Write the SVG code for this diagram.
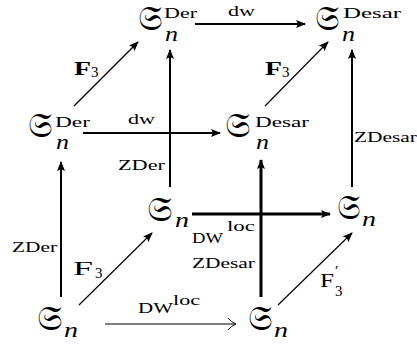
<svg xmlns="http://www.w3.org/2000/svg" width="417" height="345" viewBox="0 0 417 345">
<defs>
<style>
.fr{font-family:"DejaVu Serif","DejaVu Sans","Noto Sans",serif;font-size:35px;fill:#000}
.sup{font-family:"Liberation Serif","DejaVu Serif",serif;font-size:14px;fill:#000}
.it{font-family:"Liberation Serif","DejaVu Serif",serif;font-style:italic;font-size:22px;fill:#000}
.lb{font-family:"Liberation Serif","DejaVu Serif",serif;font-size:14px;fill:#000}
.bf{font-family:"Liberation Serif","DejaVu Serif",serif;font-weight:bold;font-size:18px;fill:#000}
.rm{font-family:"Liberation Serif","DejaVu Serif",serif;font-size:19px;fill:#000}
.sub{font-family:"Liberation Serif","DejaVu Serif",serif;font-size:15px;fill:#000}
.e{stroke:#000;fill:none}
</style>
<marker id="ah" viewBox="0 0 10 8" refX="9" refY="4" markerWidth="10" markerHeight="8" markerUnits="userSpaceOnUse" orient="auto">
<path d="M0,0 L10,4 L0,8 L2,4 z" fill="#000"/>
</marker>
</defs>
<g id="edges">
<line class="e" x1="195" y1="24" x2="305" y2="24" stroke-width="1.8" marker-end="url(#ah)"/>
<text class="lb" x="228" y="16" textLength="27" lengthAdjust="spacingAndGlyphs">dw</text>
<line class="e" x1="74" y1="106" x2="138" y2="42" stroke-width="1.2" marker-end="url(#ah)"/>
<text class="bf" x="74" y="75" textLength="17" lengthAdjust="spacingAndGlyphs">F</text><text class="sub" x="91" y="77">3</text>
<line class="e" x1="265" y1="106" x2="328" y2="42" stroke-width="1.2" marker-end="url(#ah)"/>
<text class="bf" x="265" y="75" textLength="17" lengthAdjust="spacingAndGlyphs">F</text><text class="sub" x="282" y="77">3</text>
<line class="e" x1="83" y1="133" x2="220" y2="133" stroke-width="1.8" marker-end="url(#ah)"/>
<text class="lb" x="128" y="124" textLength="27" lengthAdjust="spacingAndGlyphs">dw</text>
<line class="e" x1="170" y1="187" x2="170" y2="50" stroke-width="2" marker-end="url(#ah)"/>
<text class="lb" x="118" y="170" textLength="47" lengthAdjust="spacingAndGlyphs">ZDer</text>
<line class="e" x1="352" y1="187" x2="352" y2="50" stroke-width="2" marker-end="url(#ah)"/>
<text class="lb" x="354" y="142" textLength="63" lengthAdjust="spacingAndGlyphs">ZDesar</text>
<line class="e" x1="61" y1="297" x2="61" y2="162" stroke-width="2" marker-end="url(#ah)"/>
<text class="lb" x="12" y="252" textLength="45" lengthAdjust="spacingAndGlyphs">ZDer</text>
<line class="e" x1="261" y1="297" x2="261" y2="160" stroke-width="3" marker-end="url(#ah)"/>
<text class="lb" x="192" y="268" textLength="63" lengthAdjust="spacingAndGlyphs">ZDesar</text>
<line class="e" x1="192" y1="214" x2="330" y2="214" stroke-width="3" marker-end="url(#ah)"/>
<text class="lb" x="192" y="243" textLength="31" lengthAdjust="spacingAndGlyphs">DW</text>
<text class="lb" x="227" y="231" textLength="28" lengthAdjust="spacingAndGlyphs">loc</text>
<line class="e" x1="79" y1="305" x2="152" y2="233" stroke-width="1.2" marker-end="url(#ah)"/>
<text class="rm" x="73" y="275" textLength="20" lengthAdjust="spacingAndGlyphs">F</text><text class="sub" x="95" y="278">3</text>
<line class="e" x1="278" y1="305" x2="352" y2="233" stroke-width="1.2" marker-end="url(#ah)"/>
<text class="rm" x="320" y="287" textLength="14" lengthAdjust="spacingAndGlyphs">F</text><text class="sub" x="335" y="276">′</text><text class="sub" x="335" y="296">3</text>
<line class="e" x1="105" y1="324" x2="235" y2="324" stroke-width="1"/>
<path class="e" d="M228,318 Q231,322 236,324 Q231,326 228,330" stroke-width="1"/>
<text class="lb" x="138" y="313" textLength="35" lengthAdjust="spacingAndGlyphs">DW</text>
<text class="lb" x="173" y="305" textLength="27" lengthAdjust="spacingAndGlyphs">loc</text>
</g>
<g id="n-der-top">
<text class="fr" x="138" y="30" textLength="25" lengthAdjust="spacingAndGlyphs">𝔖</text>
<text class="sup" x="164" y="18" textLength="33" lengthAdjust="spacingAndGlyphs">Der</text>
<text class="it" x="165" y="41" textLength="13" lengthAdjust="spacingAndGlyphs">n</text>
</g>
<g id="n-desar-top">
<text class="fr" x="315" y="30" textLength="25" lengthAdjust="spacingAndGlyphs">𝔖</text>
<text class="sup" x="343" y="18" textLength="58" lengthAdjust="spacingAndGlyphs">Desar</text>
<text class="it" x="342" y="41" textLength="13" lengthAdjust="spacingAndGlyphs">n</text>
</g>
<g id="n-der-mid">
<text class="fr" x="28" y="137" textLength="25" lengthAdjust="spacingAndGlyphs">𝔖</text>
<text class="sup" x="55" y="127" textLength="35" lengthAdjust="spacingAndGlyphs">Der</text>
<text class="it" x="56" y="149" textLength="13" lengthAdjust="spacingAndGlyphs">n</text>
</g>
<g id="n-desar-mid">
<text class="fr" x="225" y="137" textLength="26" lengthAdjust="spacingAndGlyphs">𝔖</text>
<text class="sup" x="255" y="127" textLength="54" lengthAdjust="spacingAndGlyphs">Desar</text>
<text class="it" x="256" y="149" textLength="13" lengthAdjust="spacingAndGlyphs">n</text>
</g>
<g id="n-s-back-left">
<text class="fr" x="147" y="221" textLength="26" lengthAdjust="spacingAndGlyphs">𝔖</text>
<text class="it" x="175" y="227" textLength="14" lengthAdjust="spacingAndGlyphs">n</text>
</g>
<g id="n-s-back-right">
<text class="fr" x="337" y="219" textLength="24" lengthAdjust="spacingAndGlyphs">𝔖</text>
<text class="it" x="362" y="226" textLength="14" lengthAdjust="spacingAndGlyphs">n</text>
</g>
<g id="n-s-front-left">
<text class="fr" x="37" y="330" textLength="26" lengthAdjust="spacingAndGlyphs">𝔖</text>
<text class="it" x="64" y="337" textLength="14" lengthAdjust="spacingAndGlyphs">n</text>
</g>
<g id="n-s-front-right">
<text class="fr" x="248" y="330" textLength="25" lengthAdjust="spacingAndGlyphs">𝔖</text>
<text class="it" x="274" y="337" textLength="14" lengthAdjust="spacingAndGlyphs">n</text>
</g>
</svg>
